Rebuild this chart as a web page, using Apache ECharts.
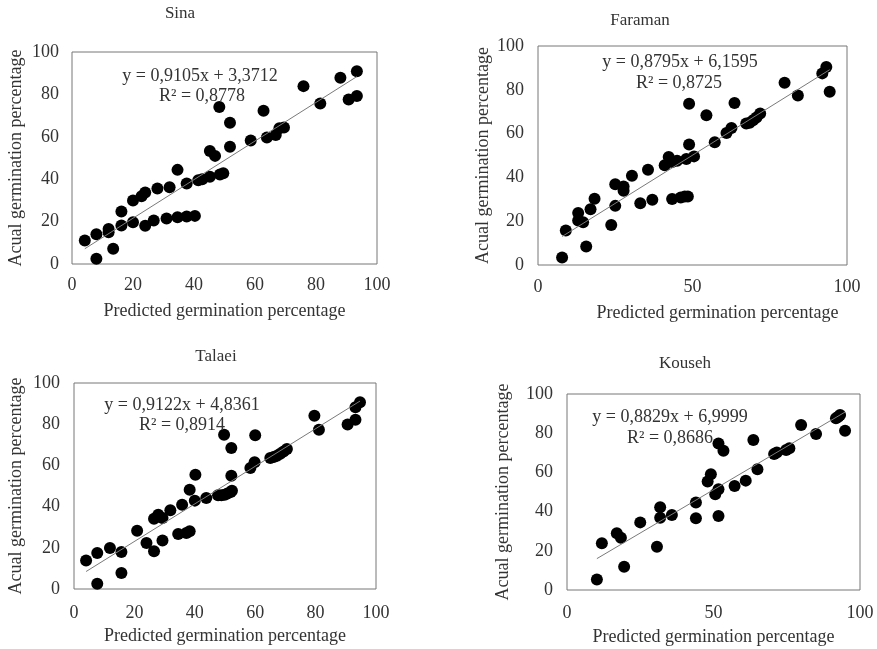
<!DOCTYPE html>
<html>
<head>
<meta charset="utf-8">
<script src="https://cdn.jsdelivr.net/npm/echarts@6/dist/echarts.min.js"></script>
<style>
  html, body { margin: 0; padding: 0; background: #fff; }
  #chart { width: 877px; height: 649px; }
</style>
</head>
<body>
<div id="chart"></div>
<script>
const sinaPoints = [
  [4.2, 11.1], [8, 2.5], [8, 14], [12, 16.5], [12, 15], [13.5, 7.2], [16.2, 18.2], [16.2, 24.8],
  [20, 19.7], [20, 30], [22.8, 32], [24, 33.7], [24, 18], [26.8, 20.5], [28, 35.6], [31, 21.5],
  [32, 36.2], [34.6, 44.4], [34.6, 22], [37.6, 22.4], [37.6, 38], [40.3, 22.7], [41.4, 39.5],
  [42.7, 40], [45.2, 41.2], [45.2, 53.3], [46.9, 51], [48.3, 74.1], [48.5, 42.2], [49.6, 42.8],
  [51.8, 66.6], [51.8, 55.3], [58.6, 58.2], [62.8, 72.3], [63.9, 59.7], [66.8, 60.8], [68, 64],
  [69.5, 64.4], [75.9, 83.9], [81.4, 75.7], [88, 87.8], [90.7, 77.6], [93.4, 90.9], [93.4, 79.3]
];
const faramanPoints = [
  [7.8, 3.4], [9, 15.7], [13, 23.7], [13, 20.3], [14.6, 19.5], [15.6, 8.4], [17, 25.5], [18.3, 30.2],
  [23.7, 18.3], [25, 36.9], [25, 27], [27.7, 35.9], [27.7, 33.9], [30.4, 40.8], [33.1, 28.2],
  [35.6, 43.5], [37, 29.8], [41, 45.5], [42.3, 49.3], [43.4, 47], [43.4, 30.1], [45, 47.6],
  [46.2, 30.8], [47.5, 31.3], [48, 48.4], [48.5, 31.3], [48.9, 73.6], [48.9, 55], [50.5, 49.6],
  [54.5, 68.4], [57.2, 56], [61, 60.3], [62.6, 62.6], [63.6, 74], [67.4, 64.6], [68.5, 64.9],
  [69.6, 66.1], [70.7, 67.3], [71.9, 69.2], [79.8, 83.2], [84.1, 77.4], [92, 87.5], [93.3, 90.4],
  [94.4, 79.1]
];
const talaeiPoints = [
  [4, 13.8], [7.7, 17.5], [7.7, 2.6], [11.9, 19.9], [15.7, 18], [15.7, 7.8], [20.9, 28.3], [24, 22.3],
  [26.5, 34.1], [26.5, 18.3], [27.9, 36.1], [29.3, 34.5], [29.3, 23.5], [31.9, 38.2], [34.5, 26.7],
  [35.8, 40.9], [37.2, 27.2], [38.3, 28], [38.3, 48.2], [40, 42.9], [40.2, 55.5], [43.8, 44.2],
  [47.7, 45.5], [48.8, 45.5], [49.7, 74.9], [49.9, 45.8], [50.8, 46.4], [51.9, 47.1], [52.1, 68.4],
  [52.1, 55], [52.3, 47.7], [58.4, 58.7], [59.8, 61.5], [60, 74.6], [65, 63.6], [66.1, 64.1],
  [67.2, 64.7], [68.3, 65.7], [69.4, 66.7], [70.5, 68], [79.6, 84.1], [81.1, 77.3], [90.6, 79.8],
  [93.2, 82.2], [93.2, 88.2], [94.7, 90.6]
];
const kousehPoints = [
  [10.2, 5.4], [11.9, 23.8], [17, 28.9], [18.4, 26.7], [19.5, 11.9], [25, 34.5], [30.7, 22.1],
  [31.8, 42.2], [31.8, 36.9], [35.8, 38.3], [44, 36.6], [44, 44.6], [48, 55.3], [49.1, 59],
  [50.6, 48.8], [51.7, 51.4], [51.7, 37.8], [51.7, 74.8], [53.4, 71.1], [57.2, 53.1], [61, 55.8],
  [63.6, 76.5], [65, 61.6], [70.7, 69.4], [71.6, 70.1], [74.8, 71.4], [75.9, 72.3], [79.9, 84.2],
  [85, 79.6], [91.8, 87.6], [92.6, 88.4], [93.2, 89.3], [94.9, 81.3]
];

const panelNames = ['Sina', 'Faraman', 'Talaei', 'Kouseh'];
const slopes = [0.9105, 0.8795, 0.9122, 0.8829];
const intercepts = [3.3712, 6.1595, 4.8361, 6.9999];
const r2Values = ['0,8778', '0,8725', '0,8914', '0,8686'];
const eqTexts = ['y = 0,9105x + 3,3712', 'y = 0,8795x + 6,1595', 'y = 0,9122x + 4,8361', 'y = 0,8829x + 6,9999'];
const xIntervals = [20, 50, 20, 50];

const allPoints = [sinaPoints, faramanPoints, talaeiPoints, kousehPoints];

const font = '"Liberation Serif", "DejaVu Serif", serif';
const textColor = '#333';
const fs = 18;

// pixel layout of each panel
const layout = [
  { grid: { left: 72, top: 52, width: 305, height: 212 }, title: [180, 14], eq: [200, 76], r2: [202, 96], yGap: 47, xGap: 38, xMargin: 12, yMargin: 13, xNamePad: 0 },
  { grid: { left: 538, top: 46, width: 309, height: 219 }, title: [640, 21], eq: [680, 62], r2: [679, 83], yGap: 46, xGap: 39, xMargin: 13, yMargin: 14, xNamePad: 50 },
  { grid: { left: 74, top: 383, width: 302, height: 206 }, title: [216, 357], eq: [182, 405], r2: [182, 425], yGap: 49, xGap: 38, xMargin: 15, yMargin: 14, xNamePad: 0 },
  { grid: { left: 567, top: 394, width: 293, height: 196 }, title: [685, 364], eq: [670, 417], r2: [670, 438], yGap: 55, xGap: 38, xMargin: 14, yMargin: 14, xNamePad: 0 }
];

const grids = [], xAxes = [], yAxes = [], series = [], graphics = [];

allPoints.forEach((pts, i) => {
  const L = layout[i];
  grids.push(Object.assign({ show: true, borderColor: '#767676', borderWidth: 1, backgroundColor: '#fff' }, L.grid));
  xAxes.push({
    gridIndex: i, type: 'value', min: 0, max: 100, interval: xIntervals[i],
    name: 'Predicted germination percentage', nameLocation: 'middle', nameGap: L.xGap,
    nameTextStyle: { fontFamily: font, fontSize: fs, color: textColor, padding: [0, 0, 0, L.xNamePad] },
    axisLine: { show: false }, axisTick: { show: false }, splitLine: { show: false },
    axisLabel: { fontFamily: font, fontSize: fs, color: textColor, margin: L.xMargin }
  });
  yAxes.push({
    gridIndex: i, type: 'value', min: 0, max: 100, interval: 20,
    name: 'Acual germination percentage', nameLocation: 'middle', nameGap: L.yGap, nameRotate: 90,
    nameTextStyle: { fontFamily: font, fontSize: fs, color: textColor },
    axisLine: { show: false }, axisTick: { show: false }, splitLine: { show: false },
    axisLabel: { fontFamily: font, fontSize: fs, color: textColor, margin: L.yMargin }
  });
  series.push({
    type: 'scatter', xAxisIndex: i, yAxisIndex: i, data: pts,
    symbolSize: 12, itemStyle: { color: '#000', opacity: 1 }, z: 3
  });
  // linear trendline from the fitted equation across the data range
  const xs = pts.map(p => p[0]);
  const x0 = Math.min(...xs), x1 = Math.max(...xs);
  series.push({
    type: 'line', xAxisIndex: i, yAxisIndex: i, symbol: 'none', silent: true, z: 4,
    lineStyle: { color: '#7a7a7a', width: 1 },
    data: [[x0, slopes[i] * x0 + intercepts[i]], [x1, slopes[i] * x1 + intercepts[i]]]
  });
  graphics.push({
    type: 'text', x: L.title[0], y: L.title[1], z: 10,
    style: { text: panelNames[i], font: '17px ' + font, fill: textColor, align: 'center', verticalAlign: 'middle' }
  });
  graphics.push({
    type: 'text', x: L.eq[0], y: L.eq[1], z: 10,
    style: { text: eqTexts[i], font: fs + 'px ' + font, fill: textColor, align: 'center', verticalAlign: 'middle' }
  });
  graphics.push({
    type: 'text', x: L.r2[0], y: L.r2[1], z: 10,
    style: { text: 'R² = ' + r2Values[i], font: fs + 'px ' + font, fill: textColor, align: 'center', verticalAlign: 'middle' }
  });
});

const chart = echarts.init(document.getElementById('chart'), null, { renderer: 'canvas' });
chart.setOption({
  backgroundColor: '#fff',
  animation: false,
  grid: grids,
  xAxis: xAxes,
  yAxis: yAxes,
  series: series,
  graphic: graphics
});
</script>
</body>
</html>
